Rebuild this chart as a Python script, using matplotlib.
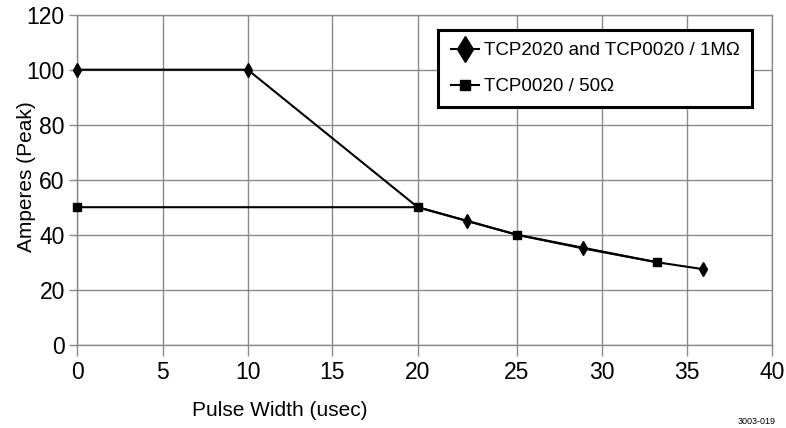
import matplotlib
matplotlib.use("Agg")
import matplotlib.pyplot as plt
from matplotlib.lines import Line2D
import numpy as np

# dados
x_1m = [0, 10, 20, 22.5, 25, 28.9, 33.2, 35.9]
y_1m = [100, 100, 50, 45, 40, 35, 30, 27.5]
marcas_1m = [0, 1, 3, 5, 7]  # pontos com losango
x_50 = [0, 20, 25, 33.2]
y_50 = [50, 50, 40, 30]
label_1m = "TCP2020 and TCP0020 / 1M\u03a9"
label_50 = "TCP0020 / 50\u03a9"
xticks = [0, 5, 10, 15, 20, 25, 30, 35, 40]
yticks = [0, 20, 40, 60, 80, 100, 120]

# o eixo x original não é uniforme (20-25 é mais largo)
escala_pos = [0, 85.4, 170.4, 255, 340.4, 439.4, 524.7, 610, 695]

def fwd(v):
    return np.interp(v, xticks, escala_pos)

def inv(v):
    return np.interp(v, escala_pos, xticks)

fonte = ['Liberation Sans Narrow', 'Liberation Sans', 'DejaVu Sans']
plt.rcParams['font.family'] = fonte
cinza = '#8a8a8a'

fig = plt.figure(figsize=(7.86, 4.28), dpi=100)
ax = fig.add_axes([77.3/786, 1-344.7/428, (772.3-77.3)/786, 330/428])
ax.set_xscale('function', functions=(fwd, inv))
ax.set_xlim(0, 40)
ax.set_ylim(0, 120)
ax.set_xticks(xticks)
ax.set_yticks(yticks)
ax.grid(True, color=cinza, lw=1.0)
for s in ax.spines.values():
    s.set_color(cinza)
    s.set_linewidth(1.0)
ax.tick_params(axis='x', length=8, width=1, color=cinza, labelsize=16.5, pad=4)
ax.tick_params(axis='y', length=6, width=1, color=cinza, labelsize=16.5, pad=3)

ax.plot(x_1m, y_1m, color='black', lw=1.5, marker='d', ms=7,
        markevery=marcas_1m, clip_on=False, zorder=3)
ax.plot(x_50, y_50, color='black', lw=1.5, marker='s', ms=5.5,
        clip_on=False, zorder=4)

handles = [Line2D([], [], color='black', lw=1.5, marker='d', ms=13.5),
           Line2D([], [], color='black', lw=1.5, marker='s', ms=7)]
leg = ax.legend(handles, [label_1m, label_50], loc='upper right',
                bbox_to_anchor=(752.3/786, 1-30/428), bbox_transform=fig.transFigure,
                borderaxespad=0, fancybox=False, framealpha=1, edgecolor='black',
                fontsize=13.5, handlelength=1.5, handletextpad=0.3,
                labelspacing=1.0, borderpad=0.65)
leg.get_frame().set_linewidth(2.2)

fig.text(280/786, 1-410/428, "Pulse Width (usec)", fontsize=15, ha='center', va='center')
fig.text(27/786, 1-177/428, "Amperes (Peak)", fontsize=15, ha='center', va='center',
         rotation=90)
fig.text(757/786, 1-421/428, "3003-019", fontsize=6.5, ha='center', va='center')

fig.savefig("out.png", dpi=100)
